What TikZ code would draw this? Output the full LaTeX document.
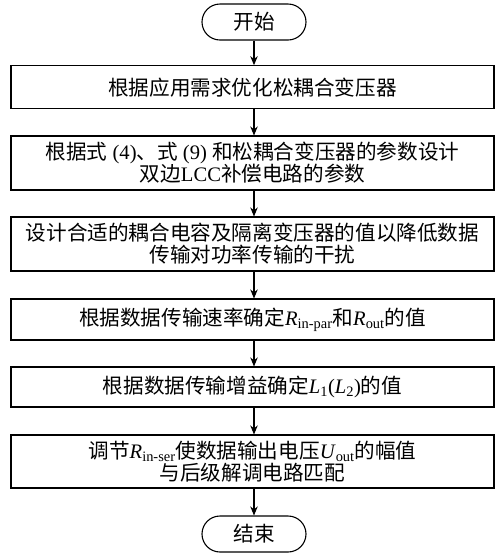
\documentclass[tikz,border=0pt]{standalone}
\usepackage{fontspec}
\setmainfont{Liberation Serif}
\newfontfamily\cjk{Noto Sans CJK SC}
\usetikzlibrary{arrows.meta}
\newcommand\lt[1]{{\rmfamily #1}}
\begin{document}
\begin{tikzpicture}[x=1pt,y=-1pt,
  txt/.style={font=\cjk\fontsize{20.6}{22}\selectfont},
  stepbox/.style={txt,draw,line width=1.1pt,minimum width=483pt,inner sep=0pt,align=center},
  term/.style={txt,draw,line width=1.1pt,rounded corners=18pt,minimum width=104pt,minimum height=36pt,inner sep=0pt},
  flow/.style={line width=1.1pt,-{Stealth[length=9pt,width=7.5pt]}}]
\useasboundingbox (0,0) rectangle (500,558);
\node[term] (s) at (254,22) {开始};
\node[stepbox,minimum height=43pt] (b1) at (252.5,87.2) {根据应用需求优化松耦合变压器};
\node[stepbox,minimum height=54pt] (b2) at (252.5,163) {根据式\lt{ (4)}、式\lt{ (9) }和松耦合变压器的参数设计\\双边\lt{LCC}补偿电路的参数};
\node[stepbox,minimum height=54pt] (b3) at (252.5,244) {设计合适的耦合电容及隔离变压器的值以降低数据\\传输对功率传输的干扰};
\node[stepbox,minimum height=41pt] (b4) at (252.5,319.5) {根据数据传输速率确定\lt{\textit{R}\textsubscript{in-par}}和\lt{\textit{R}\textsubscript{out}}的值};
\node[stepbox,minimum height=40pt] (b5) at (252.5,387) {根据数据传输增益确定\lt{\textit{L}\textsubscript{1}(\textit{L}\textsubscript{2})}的值};
\node[stepbox,minimum height=53pt] (b6) at (252.5,461.5) {调节\lt{\textit{R}\textsubscript{in-ser}}使数据输出电压\lt{\textit{U}\textsubscript{out}}的幅值\\与后级解调电路匹配};
\node[term] (e) at (254,534) {结束};
\draw[flow] (s.south) -- (s.south |- b1.north);
\draw[flow] (b1.south -| s.south) -- (s.south |- b2.north);
\draw[flow] (b2.south -| s.south) -- (s.south |- b3.north);
\draw[flow] (b3.south -| s.south) -- (s.south |- b4.north);
\draw[flow] (b4.south -| s.south) -- (s.south |- b5.north);
\draw[flow] (b5.south -| s.south) -- (s.south |- b6.north);
\draw[flow] (b6.south -| s.south) -- (e.north);
\end{tikzpicture}
\end{document}
